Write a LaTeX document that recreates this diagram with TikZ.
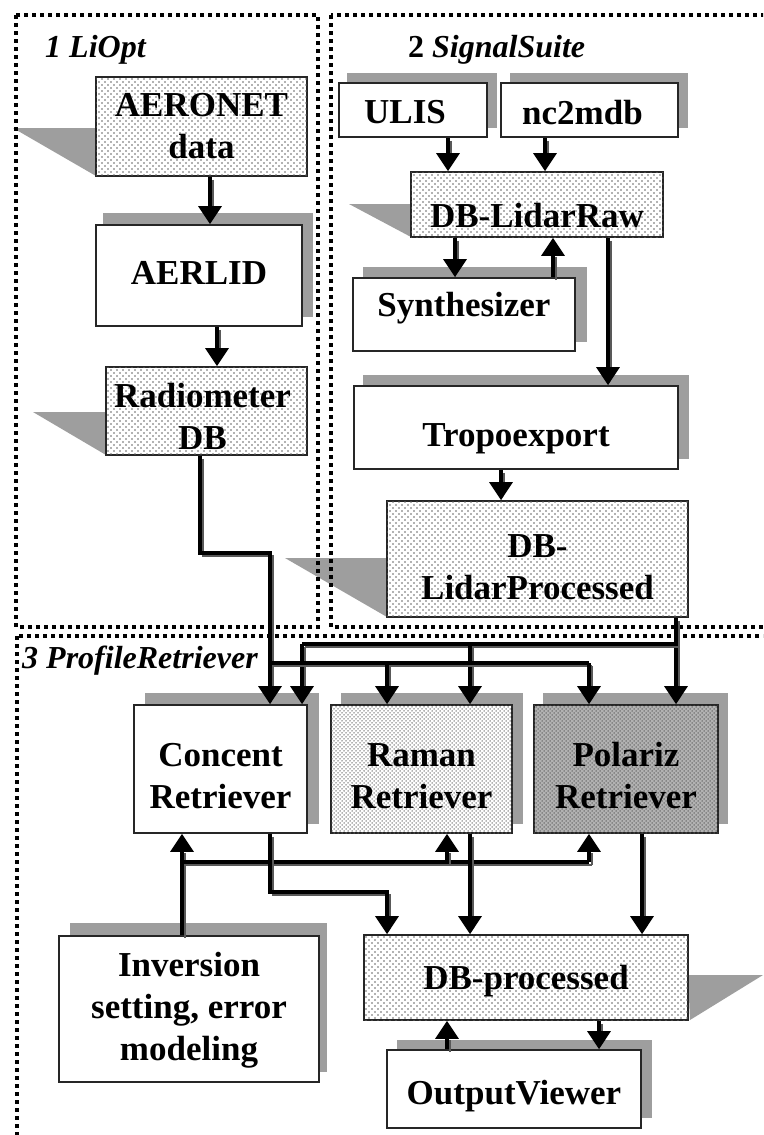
\documentclass[tikz,border=0pt]{standalone}
\usepackage{fontspec}
\setmainfont{Liberation Serif}
\usetikzlibrary{arrows.meta,patterns}
\pgfdeclarepatternformonly{sdots}{\pgfqpoint{-1pt}{-1pt}}{\pgfqpoint{5pt}{5pt}}{\pgfqpoint{6pt}{6pt}}{%
  \pgfpathcircle{\pgfqpoint{0pt}{0pt}}{0.8pt}\pgfpathcircle{\pgfqpoint{3pt}{3pt}}{0.8pt}\pgfusepath{fill}}
\pgfdeclarepatternformonly{ddots}{\pgfqpoint{-1pt}{-1pt}}{\pgfqpoint{3pt}{3pt}}{\pgfqpoint{4pt}{4pt}}{%
  \pgfpathcircle{\pgfqpoint{0pt}{0pt}}{0.75pt}\pgfpathcircle{\pgfqpoint{2pt}{2pt}}{0.75pt}\pgfusepath{fill}}
\tikzset{
  box/.style={draw=black!85, line width=1.6pt, fill=white, inner sep=0pt},
  dotbox/.style={box, postaction={pattern=sdots, pattern color=black!60}},
  ramanbox/.style={box, postaction={pattern=ddots, pattern color=black!60}},
  polbox/.style={box, fill=black!30, postaction={pattern=ddots, pattern color=black!65}},
  txt/.style={font=\fontsize{35}{42}\selectfont\bfseries, align=center, inner sep=0pt},
  ttl/.style={font=\fontsize{32}{38}\selectfont\bfseries\itshape, inner sep=0pt, anchor=base west},
  shade/.style={fill=black!38},
  frame/.style={line width=4pt, dash pattern=on 4pt off 4pt},
  wire/.style={line width=3.2pt, preaction={draw=black!65, line width=1.4pt, transform canvas={xshift=3pt,yshift=-3pt}}},
  conn/.style={line width=3.2pt, -{Triangle[width=23pt,length=18pt]},
    preaction={draw=black!65, line width=1.4pt, -, shorten >=16pt, transform canvas={xshift=3pt,yshift=-3pt}}},
}
\begin{document}
\begin{tikzpicture}[x=1pt, y=-1pt]
\useasboundingbox (0,0) rectangle (763,1135);
\clip (0,0) rectangle (763,1135);
\fill[white] (0,0) rectangle (763,1135);
% shadows
\fill[shade] (13,128) -- (96,128) -- (96,176) -- cycle;
\fill[shade] (103,213) rectangle (313,317);
\fill[shade] (33,412) -- (106,412) -- (106,455) -- cycle;
\fill[shade] (347,73) rectangle (497,128);
\fill[shade] (510,73) rectangle (688,128);
\fill[shade] (349,204) -- (411,204) -- (411,237) -- cycle;
\fill[shade] (363,267) rectangle (587,342);
\fill[shade] (363,375) rectangle (689,459);
\fill[shade] (285,558) -- (387,558) -- (387,617) -- cycle;
\fill[shade] (145,693) rectangle (319,824);
\fill[shade] (341,693) rectangle (523,824);
\fill[shade] (543,693) rectangle (728,824);
\fill[shade] (70,923) rectangle (327,1072);
\fill[shade] (688,975) -- (763,975) -- (690,1020) -- cycle;
\fill[shade] (397,1040) rectangle (652,1118);
% frames
\draw[frame] (16,15) rectangle (318,627);
\draw[frame] (331,15) rectangle (800,627);
\draw[frame] (17,636) rectangle (800,1200);
% titles
\node[ttl] (t1) at (45,57) {1 LiOpt};
\node[ttl] (t2) at (408,57) {{\upshape 2} SignalSuite};
\node[ttl] (t3) at (22,668) {3 ProfileRetriever};
% boxes
\node[dotbox, minimum width=211pt, minimum height=99pt, label={[txt]center:AERONET\\data}] (aeronet) at (201.5,126.5) {};
\node[box, minimum width=206pt, minimum height=101pt, label={[txt, yshift=2.5pt]center:AERLID}] (aerlid) at (199,275.5) {};
\node[dotbox, minimum width=201pt, minimum height=88pt, label={[txt, xshift=-4pt, yshift=-5pt]center:Radiometer\\DB}] (radiom) at (206.5,411) {};
\node[box, minimum width=148pt, minimum height=54pt, label={[txt, xshift=-8pt, yshift=-2pt]center:ULIS}] (ulis) at (413,110) {};
\node[box, minimum width=177pt, minimum height=54pt, label={[txt, xshift=-7pt, yshift=-3pt]center:nc2mdb}] (nc2mdb) at (589.5,110) {};
\node[dotbox, minimum width=252pt, minimum height=65pt, label={[txt, yshift=-11.5pt]center:DB-LidarRaw}] (dbraw) at (537,204.5) {};
\node[box, minimum width=222pt, minimum height=73pt, label={[txt, yshift=6pt]center:Synthesizer}] (synth) at (464,314.5) {};
\node[box, minimum width=324pt, minimum height=83pt, label={[txt, yshift=-11pt]center:Tropoexport}] (tropo) at (516,427.5) {};
\node[dotbox, minimum width=301pt, minimum height=116pt, label={[txt, yshift=-8pt]center:DB-\\LidarProcessed}] (dblp) at (537.5,559) {};
\node[box, minimum width=173pt, minimum height=128pt, label={[txt, yshift=-7pt]center:Concent\\Retriever}] (concent) at (220.5,769) {};
\node[ramanbox, minimum width=181pt, minimum height=128pt, label={[txt, yshift=-7pt]center:Raman\\Retriever}] (raman) at (421.5,769) {};
\node[polbox, minimum width=184pt, minimum height=128pt, label={[txt, yshift=-7pt]center:Polariz\\Retriever}] (polariz) at (626,769) {};
\node[box, minimum width=260pt, minimum height=146pt, label={[txt, yshift=-1pt]center:Inversion\\setting, error\\modeling}] (inversion) at (189,1009) {};
\node[dotbox, minimum width=324pt, minimum height=85pt, label={[txt, yshift=-4pt]center:DB-processed}] (dbproc) at (526,977.5) {};
\node[box, minimum width=254pt, minimum height=78pt, label={[txt, yshift=-7pt]center:OutputViewer}] (output) at (514,1089) {};
% connectors
\draw[conn] (210,0 |- aeronet.south) -- (210,0 |- aerlid.north);
\draw[conn] (217,0 |- aerlid.south) -- (217,0 |- radiom.north);
\draw[conn] (200,0 |- radiom.south) -- (200,553) -- (270,553) -- (270,0 |- concent.north);
\draw[conn] (448,0 |- ulis.south) -- (448,0 |- dbraw.north);
\draw[conn] (545,0 |- nc2mdb.south) -- (545,0 |- dbraw.north);
\draw[conn] (455,0 |- dbraw.south) -- (455,0 |- synth.north);
\draw[conn] (553,0 |- synth.north) -- (553,0 |- dbraw.south);
\draw[conn] (608,0 |- dbraw.south) -- (608,0 |- tropo.north);
\draw[conn] (501,0 |- tropo.south) -- (501,0 |- dblp.north);
\draw[conn] (676,0 |- dblp.south) -- (676,0 |- polariz.north);
\draw[wire] (676,644) -- (302,644);
\draw[conn] (302,644) -- (302,0 |- concent.north);
\draw[conn] (470,644) -- (470,0 |- raman.north);
\draw[wire] (270,663) -- (589,663);
\draw[conn] (387,663) -- (387,0 |- raman.north);
\draw[conn] (589,663) -- (589,0 |- polariz.north);
\draw[conn] (182,0 |- inversion.north) -- (182,0 |- concent.south);
\draw[wire] (182,862) -- (589,862);
\draw[conn] (589,862) -- (589,0 |- polariz.south);
\draw[conn] (447,862) -- (447,0 |- raman.south);
\draw[conn] (270,0 |- concent.south) -- (270,892) -- (387,892) -- (387,0 |- dbproc.north);
\draw[conn] (470,0 |- raman.south) -- (470,0 |- dbproc.north);
\draw[conn] (642,0 |- polariz.south) -- (642,0 |- dbproc.north);
\draw[conn] (599,0 |- dbproc.south) -- (599,0 |- output.north);
\draw[conn] (447,0 |- output.north) -- (447,0 |- dbproc.south);
\end{tikzpicture}
\end{document}
